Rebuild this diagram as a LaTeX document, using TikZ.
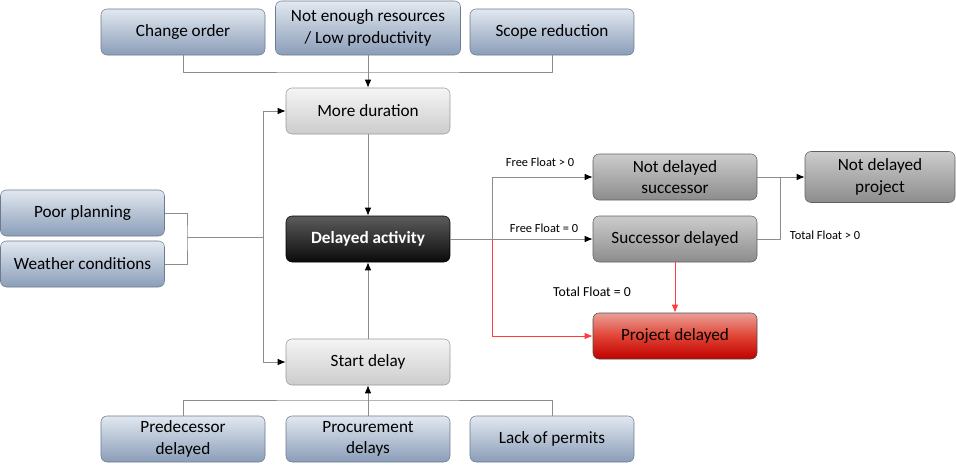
\documentclass[tikz,border=0pt]{standalone}
\usepackage{fontspec}
\setmainfont{Carlito}
\usetikzlibrary{arrows.meta}
\definecolor{wire}{HTML}{8C8C8C}
\definecolor{causetop}{HTML}{E2E8F0}
\definecolor{causebot}{HTML}{8A9DB8}
\definecolor{causeline}{HTML}{6B7A8F}
\definecolor{alarmred}{HTML}{FF3B3B}
\definecolor{alarmtop}{HTML}{EAA098}
\definecolor{alarmmid}{HTML}{E04434}
\definecolor{alarmbot}{HTML}{C00000}
\definecolor{acttop}{HTML}{5C5C5C}
\definecolor{actbot}{HTML}{0A0A0A}
\tikzset{
  cause/.style={draw=causeline, rounded corners=4.5pt, top color=causetop, bottom color=causebot,
    minimum width=123pt, minimum height=34.5pt, align=center},
  stage/.style={draw=gray!80, rounded corners=4.5pt, top color=gray!8, bottom color=gray!40,
    minimum width=123pt, minimum height=34.5pt, align=center},
  result/.style={draw=gray!75!black, rounded corners=4.5pt, top color=gray!40, bottom color=gray!90,
    minimum width=123pt, minimum height=34.5pt, align=center},
  mainact/.style={draw=black, rounded corners=4.5pt, top color=acttop, bottom color=actbot,
    minimum width=123pt, minimum height=34.5pt, text=white, font=\fontsize{12.9}{16}\selectfont\bfseries},
  alarm/.style={draw=gray!60!black, rounded corners=4.5pt, top color=alarmtop, bottom color=alarmbot,
    middle color=alarmmid, minimum width=123pt, minimum height=34.5pt},
  arr/.style={draw=wire, line width=0.75pt, -{Latex[black,length=6pt,width=5pt]}},
  redarr/.style={draw=alarmred, line width=0.75pt, -{Latex[alarmred,length=6pt,width=5pt]}},
  wirel/.style={draw=wire, line width=0.75pt},
  flabel/.style={inner sep=0pt, font=\fontsize{9.3}{11}\selectfont}
}
\begin{document}
\begin{tikzpicture}[x=0.75pt, y=-0.75pt, line join=round, font=\fontsize{12.9}{16}\selectfont]
  \useasboundingbox (0,0) rectangle (956,471);
  % causes of longer duration
  \node[cause] (change) at (183,32) {Change order};
  \node[cause, minimum width=138.75pt, minimum height=40.5pt] (resources) at (368,28) {Not enough resources\\/ Low productivity};
  \node[cause] (scope) at (552,32) {Scope reduction};
  % central chain
  \node[stage] (more) at (368,111) {More duration};
  \node[mainact] (delayed) at (368,239) {Delayed activity};
  \node[stage] (start) at (368,362) {Start delay};
  % causes on the left
  \node[cause] (poor) at (82.5,213) {Poor planning};
  \node[cause] (weather) at (82.5,264) {Weather conditions};
  % causes of late start
  \node[cause] (pred) at (183,439) {Predecessor\\delayed};
  \node[cause] (procure) at (368,439) {Procurement\\delays};
  \node[cause] (permits) at (552,439) {Lack of permits};
  % consequences
  \node[result] (notsucc) at (675,177) {Not delayed\\successor};
  \node[result] (succ) at (675,239) {Successor delayed};
  \node[alarm] (projdel) at (675,336) {Project delayed};
  \node[result, minimum width=112.5pt, minimum height=38.25pt] (notproj) at (880,177) {Not delayed\\project};
  % junction points
  \coordinate (topbus) at (368,72);
  \coordinate (botbus) at (368,400);
  \coordinate (leftbus) at (187,237);
  \coordinate (split) at (263,237);
  \coordinate (fork) at (492,239);
  \coordinate (join) at (780,177);
  % top and bottom
  \draw[wirel] (change.south) |- (topbus) -| (scope.south);
  \draw[arr] (resources.south) -- (more.north);
  \draw[arr] (more.south) -- (delayed.north);
  \draw[wirel] (pred.north) |- (botbus) -| (permits.north);
  \draw[arr] (procure.north) -- (start.south);
  \draw[arr] (start.north) -- (delayed.south);
  % left side
  \draw[wirel] (poor.east) -| (leftbus) |- (weather.east);
  \draw[wirel] (leftbus) -- (split);
  \draw[arr] (split) |- (more.west);
  \draw[arr] (split) |- (start.west);
  % right side
  \draw[redarr] (fork) |- (projdel.west);
  \draw[wirel] (delayed.east) -- (fork);
  \draw[arr] (fork) |- (notsucc.west);
  \draw[arr] (fork) -- (succ.west);
  \draw[redarr] (succ.south) -- (projdel.north);
  \draw[wirel] (notsucc.east) -- (join);
  \draw[wirel] (succ.east) -| (join);
  \draw[arr] (join) -- (notproj.west);
  % labels
  \node[flabel] (ffpos) at (540,162) {Free Float > 0};
  \node[flabel] (ffzero) at (544,228) {Free Float = 0};
  \node[flabel, font=\fontsize{10.3}{12}\selectfont] (tfzero) at (592,292) {Total Float = 0};
  \node[flabel] (tfpos) at (825,235) {Total Float > 0};
\end{tikzpicture}
\end{document}
